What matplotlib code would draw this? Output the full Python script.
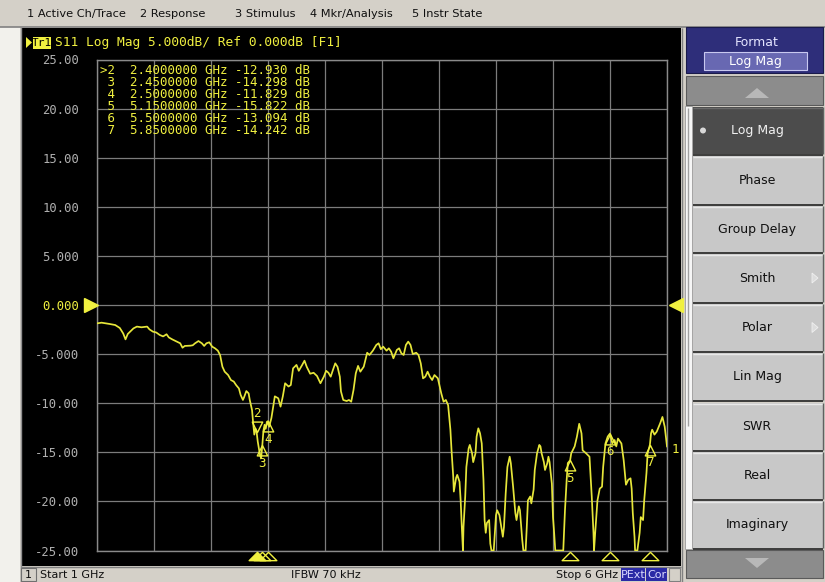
import matplotlib.pyplot as plt
from matplotlib.patches import Rectangle, Polygon, Circle
from matplotlib.path import Path
import matplotlib.transforms as mtransforms
import numpy as np

# S11 trace, 1-6 GHz sweep
freq_ghz = [
    1.00, 1.04, 1.11, 1.16, 1.20, 1.23, 1.25, 1.27, 1.32, 1.35, 1.39, 1.44, 1.46, 1.49,
    1.52, 1.55, 1.58, 1.61, 1.63, 1.66, 1.70, 1.73, 1.75, 1.77, 1.82, 1.84, 1.86, 1.89,
    1.92, 1.94, 1.96, 1.985, 2.01, 2.035, 2.06, 2.08, 2.10, 2.12, 2.15, 2.175, 2.20, 2.22,
    2.245, 2.26, 2.28, 2.29, 2.31, 2.33, 2.34, 2.36, 2.37, 2.38, 2.39, 2.40, 2.41, 2.42,
    2.43, 2.44, 2.45, 2.46, 2.47, 2.48, 2.49, 2.50, 2.51, 2.53, 2.56, 2.59, 2.61, 2.63,
    2.65, 2.68, 2.70, 2.72, 2.75, 2.77, 2.80, 2.82, 2.84, 2.87, 2.90, 2.93, 2.96, 2.99,
    3.01, 3.03, 3.05, 3.07, 3.09, 3.11, 3.13, 3.14, 3.16, 3.19, 3.21, 3.23, 3.25, 3.27,
    3.29, 3.31, 3.34, 3.37, 3.39, 3.42, 3.45, 3.47, 3.49, 3.51, 3.54, 3.56, 3.58, 3.60,
    3.63, 3.65, 3.67, 3.69, 3.71, 3.73, 3.75, 3.77, 3.80, 3.82, 3.84, 3.86, 3.88, 3.90,
    3.92, 3.94, 3.96, 3.99, 4.02, 4.04, 4.06, 4.08, 4.10, 4.11, 4.125, 4.13, 4.15, 4.16,
    4.18, 4.19, 4.20, 4.21, 4.215, 4.23, 4.24, 4.26, 4.27, 4.29, 4.30, 4.32, 4.33, 4.345,
    4.36, 4.375, 4.39, 4.40, 4.41, 4.42, 4.44, 4.45, 4.46, 4.48, 4.49, 4.50, 4.51, 4.53,
    4.55, 4.56, 4.57, 4.585, 4.60, 4.62, 4.63, 4.65, 4.67, 4.68, 4.70, 4.71, 4.73, 4.74,
    4.76, 4.77, 4.78, 4.80, 4.81, 4.83, 4.84, 4.86, 4.88, 4.89, 4.90, 4.92, 4.93, 4.95,
    4.96, 4.97, 4.99, 5.00, 5.01, 5.02, 5.09, 5.105, 5.12, 5.13, 5.15, 5.16, 5.19, 5.21,
    5.23, 5.25, 5.26, 5.29, 5.32, 5.34, 5.355, 5.36, 5.37, 5.39, 5.41, 5.43, 5.44, 5.46,
    5.48, 5.50, 5.52, 5.54, 5.555, 5.57, 5.60, 5.62, 5.64, 5.66, 5.68, 5.69, 5.70, 5.715,
    5.72, 5.74, 5.76, 5.77, 5.79, 5.80, 5.82, 5.83, 5.85, 5.86, 5.87, 5.89, 5.91, 5.94,
    5.96, 5.98, 6.00,
]
s11_db = [
    -1.87, -1.80, -1.93, -2.04, -2.34, -2.90, -3.50, -2.95, -2.38, -2.20, -2.27, -2.20, -2.48, -2.71,
    -2.80, -3.05, -3.20, -2.98, -3.30, -3.50, -3.73, -3.90, -4.35, -4.17, -4.14, -4.10, -3.90, -3.67,
    -3.90, -4.17, -3.90, -3.80, -4.24, -4.41, -4.65, -5.10, -6.28, -6.79, -7.13, -7.64, -7.80, -8.15,
    -8.50, -9.16, -9.67, -9.40, -8.76, -9.00, -9.67, -10.70, -12.05, -13.20, -12.60, -12.93, -13.90, -14.60,
    -15.30, -15.60, -14.30, -12.80, -12.20, -12.60, -11.90, -11.83, -12.40, -11.50, -9.30, -9.50, -10.35, -9.30,
    -7.97, -8.30, -8.15, -6.45, -6.10, -6.70, -6.10, -5.67, -6.30, -7.00, -6.90, -7.23, -7.97, -7.30,
    -6.70, -6.90, -7.30, -6.60, -5.94, -6.30, -7.30, -8.80, -9.67, -9.78, -9.67, -9.85, -8.66, -6.96,
    -6.20, -6.79, -6.28, -4.86, -5.09, -4.65, -4.07, -3.90, -4.50, -4.24, -4.65, -4.41, -4.75, -5.43,
    -4.58, -4.41, -4.92, -5.09, -4.07, -3.73, -4.07, -5.00, -4.86, -5.09, -5.94, -7.47, -7.30, -6.79,
    -7.30, -7.64, -7.13, -7.47, -9.00, -9.85, -9.67, -10.20, -12.70, -14.80, -17.50, -19.00, -17.60, -17.30,
    -18.00, -19.90, -22.60, -25.00, -22.60, -19.50, -16.50, -14.60, -14.25, -15.10, -16.00, -15.10, -13.40, -12.56,
    -13.07, -14.10, -17.80, -21.90, -23.20, -22.20, -21.90, -24.30, -25.00, -25.00, -23.20, -21.40, -20.90, -21.40,
    -22.90, -23.60, -22.60, -19.20, -16.50, -15.45, -16.10, -18.50, -21.20, -21.90, -20.50, -20.90, -23.90, -25.00,
    -25.00, -22.60, -19.90, -19.50, -20.20, -18.80, -16.80, -15.10, -14.25, -14.40, -15.10, -16.00, -16.80, -16.10,
    -15.45, -16.00, -18.20, -21.60, -23.20, -25.00, -25.00, -20.90, -17.80, -16.10, -15.82, -15.10, -14.40, -13.40,
    -12.10, -13.07, -14.80, -15.10, -15.45, -19.50, -23.20, -25.00, -23.20, -19.90, -18.70, -18.50, -16.50, -14.10,
    -13.40, -13.09, -14.10, -13.75, -14.40, -13.60, -14.10, -15.80, -18.30, -17.80, -17.65, -18.70, -21.20, -23.60,
    -25.00, -25.00, -23.20, -21.60, -21.90, -19.90, -17.10, -15.10, -14.24, -13.07, -12.70, -13.20, -12.90, -12.05,
    -11.40, -12.40, -14.40,
]

marker_ids = [2, 3, 4, 5, 6, 7]
marker_freq = [2.40, 2.45, 2.50, 5.15, 5.50, 5.85]
marker_db = [-12.930, -14.298, -11.829, -15.822, -13.094, -14.242]
active_marker = 2

y_ticks = [25, 20, 15, 10, 5, 0, -5, -10, -15, -20, -25]
x_ticks = [1.0, 1.5, 2.0, 2.5, 3.0, 3.5, 4.0, 4.5, 5.0, 5.5, 6.0]

menu_items = ["1 Active Ch/Trace", "2 Response", "3 Stimulus", "4 Mkr/Analysis", "5 Instr State"]
menu_x = [27, 140, 235, 310, 412]

softkeys = ["Log Mag", "Phase", "Group Delay", "Smith", "Polar", "Lin Mag", "SWR", "Real", "Imaginary"]
softkey_top = [107, 156, 206, 254, 304, 353, 403, 452, 501]
softkey_bot = [154, 204, 252, 302, 351, 400, 450, 499, 548]

YEL = '#f0f040'
TRACE = '#e6e63a'
GRID = '#7c7c7c'
MONO = 'DejaVu Sans Mono'
UI = 'DejaVu Sans'

W, H = 825, 582
fig = plt.figure(figsize=(W / 100, H / 100), dpi=100, facecolor='#d4d0c8')

# screen chrome in pixel coordinates
bg = fig.add_axes([0, 0, 1, 1])
bg.set_xlim(0, W)
bg.set_ylim(H, 0)
bg.axis('off')


def box(x0, y0, x1, y1, fc, ec='none', lw=0, z=1):
    bg.add_patch(Rectangle((x0, y0), x1 - x0, y1 - y0, facecolor=fc,
                           edgecolor=ec, linewidth=lw, zorder=z))


def hline(y, x0, x1, c, lw=1, z=2):
    bg.plot([x0, x1], [y, y], color=c, lw=lw, zorder=z, solid_capstyle='butt')


def vline(x, y0, y1, c, lw=1, z=2):
    bg.plot([x, x], [y0, y1], color=c, lw=lw, zorder=z, solid_capstyle='butt')


# menu bar
box(0, 0, W, 26, '#d4d0c8')
hline(26.5, 0, W, '#808080', 1.2)
for name, x in zip(menu_items, menu_x):
    bg.text(x, 14, name, fontsize=8.2, family=UI, color='#101010', va='center', ha='left', zorder=3)

# left strip and graph window
box(0, 27, 20, H, '#f2f1ec')
vline(20.5, 27, H, '#909090')
box(21, 28, 681, 566, 'black')
vline(681.5, 28, H, '#808080')

# title line
bg.add_patch(Polygon([[26, 37], [26, 48], [32, 42.5]], closed=True, facecolor=YEL, edgecolor='none', zorder=3))
box(33, 36.5, 51, 48.5, YEL, z=3)
bg.text(42, 42.5, "Tr1", fontsize=8, family=MONO, color='black', ha='center', va='center', zorder=4)
bg.text(55, 42.5, "S11 Log Mag 5.000dB/ Ref 0.000dB [F1]", fontsize=9.3, family=MONO,
        color=YEL, ha='left', va='center', zorder=3)

# status bar
box(21, 566, 681, H, '#d4d0c8')
hline(566.5, 21, 681, '#808080')
box(21, 568, 36, 581, '#d4d0c8', ec='#707070', lw=0.8, z=2)
bg.text(28.5, 575, "1", fontsize=8, family=UI, color='#101010', ha='center', va='center', zorder=3)
bg.text(40, 575, "Start 1 GHz", fontsize=8, family=UI, color='#101010', ha='left', va='center', zorder=3)
bg.text(291, 575, "IFBW 70 kHz", fontsize=8, family=UI, color='#101010', ha='left', va='center', zorder=3)
bg.text(556, 575, "Stop 6 GHz", fontsize=8, family=UI, color='#101010', ha='left', va='center', zorder=3)
box(621, 567.5, 645, 581, '#2a2aa6', z=2)
bg.text(633, 575, "PExt", fontsize=8, family=UI, color='#d8d8ff', ha='center', va='center', zorder=3)
box(646, 567.5, 667, 581, '#2a2aa6', z=2)
bg.text(656.5, 575, "Cor", fontsize=8, family=UI, color='#d8d8ff', ha='center', va='center', zorder=3)
box(669, 567.5, 680, 581, '#d4d0c8', ec='#808080', lw=0.8, z=2)

# softkey panel
box(682, 27, W, H, '#d4d0c8')
box(686, 27, 823, 73, '#2e2e7a', ec='#1a1a4a', lw=0.8, z=2)
bg.text(757, 42, "Format", fontsize=9, family=UI, color='#e4e4ff', ha='center', va='center', zorder=3)
box(704, 52, 807, 70, '#6868b2', ec='#c8c8f0', lw=0.8, z=3)
bg.text(755.5, 61, "Log Mag", fontsize=9, family=UI, color='white', ha='center', va='center', zorder=4)

box(686, 76, 823, 105, '#8c8c8c', ec='#5a5a5a', lw=0.8, z=2)
bg.add_patch(Polygon([[745, 98], [769, 98], [757, 88]], closed=True, facecolor='#b8b8b8', edgecolor='none', zorder=3))
box(686, 550, 823, 578, '#8c8c8c', ec='#5a5a5a', lw=0.8, z=2)
bg.add_patch(Polygon([[745, 558], [769, 558], [757, 568]], closed=True, facecolor='#b8b8b8', edgecolor='none', zorder=3))

# scrollbar strip beside the softkeys
box(685, 106, 692, 549, '#f6f6f6', ec='#9a9a9a', lw=0.6, z=2)
vline(688, 108, 426, '#a0a0a0', 1.0, z=3)

for i, (name, t, b) in enumerate(zip(softkeys, softkey_top, softkey_bot)):
    selected = i == 0
    box(693, t, 823, b, '#4c4c4c' if selected else '#c8c8c8', z=2)
    hline(t + 0.5, 693, 823, '#e8e8e8' if not selected else '#6a6a6a', 1.0, z=3)
    hline(b + 0.5, 693, 823, '#303030', 1.3, z=3)
    vline(823, t, b, '#606060', 1.0, z=3)
    bg.text(757, (t + b) / 2, name, fontsize=9, family=UI,
            color='#f0f0f0' if selected else '#101010', ha='center', va='center', zorder=4)
    if selected:
        bg.add_patch(Circle((703, (t + b) / 2), 3, facecolor='#d8d8d8', edgecolor='none', zorder=4))
    if name in ("Smith", "Polar"):
        c = (t + b) / 2
        bg.add_patch(Polygon([[812, c - 5], [812, c + 5], [818, c]], closed=True,
                             facecolor='#dcdcdc', edgecolor='#f0f0f0', lw=0.6, zorder=4))

# measurement grid
ax = fig.add_axes([97 / W, (H - 550.5) / H, 570 / W, 491 / H])
ax.set_facecolor('black')
ax.set_xlim(1, 6)
ax.set_ylim(-25, 25)
ax.set_xticks(x_ticks)
ax.set_xticklabels([])
ax.set_yticks(y_ticks)
ax.set_yticklabels([f"{v:.2f}" if abs(v) >= 10 else f"{v:.3f}" for v in y_ticks])
ax.tick_params(axis='both', length=0)
ax.tick_params(axis='y', pad=13, labelsize=8.8, labelcolor='#b0b0b0')
for lbl in ax.get_yticklabels():
    lbl.set_fontfamily(MONO)
    if lbl.get_text() == "0.000":
        lbl.set_color(YEL)
ax.grid(True, color=GRID, lw=0.9)
for sp in ax.spines.values():
    sp.set_color('#8a8a8a')
    sp.set_linewidth(1.0)

ax.plot(freq_ghz, s11_db, color=TRACE, lw=1.25, zorder=4)

# reference level arrows
blend = mtransforms.blended_transform_factory(ax.transAxes, ax.transData)
ax.plot([-0.011], [0], marker='>', ms=10, color=YEL, transform=blend, clip_on=False, zorder=5)
ax.plot([1.016], [0], marker='<', ms=10, color=YEL, transform=blend, clip_on=False, zorder=5)

# marker table
for i, (mid, f, db) in enumerate(zip(marker_ids, marker_freq, marker_db)):
    prefix = '>' if mid == active_marker else ' '
    row = f"{prefix}{mid}  {f:.7f} GHz {db:.3f} dB"
    ax.text(100, 70 + 12 * i, row, transform=bg.transData, fontsize=9, family=MONO,
            color=YEL, ha='left', va='center', zorder=6)

# markers on the trace
tri_up = Path([(0, 0), (-0.5, -1), (0.5, -1), (0, 0)], closed=True)
tri_dn = Path([(0, 0), (-0.5, 1), (0.5, 1), (0, 0)], closed=True)
flat_tri = Path([(-1, -0.5), (1, -0.5), (0, 0.5), (-1, -0.5)], closed=True)
xblend = mtransforms.blended_transform_factory(ax.transData, ax.transAxes)
for mid, f, db in zip(marker_ids, marker_freq, marker_db):
    active = mid == active_marker
    ax.plot([f], [db], marker=tri_dn if active else tri_up, ms=15, mfc='none', mec=YEL,
            mew=1.0, zorder=6)
    ax.annotate(str(mid), (f, db), xytext=(0, 13 if active else -13), textcoords='offset points',
                ha='center', va='center', fontsize=9, family=MONO, color=YEL, zorder=6)
    ax.plot([f], [-0.011], marker=flat_tri, ms=12, mfc=YEL if active else 'none', mec=YEL,
            mew=1.0, transform=xblend, clip_on=False, zorder=6)

ax.annotate("1", (freq_ghz[-1], s11_db[-1]), xytext=(3, -2), textcoords='offset points',
            ha='left', va='center', fontsize=9, family=MONO, color=YEL, annotation_clip=False)

fig.savefig('out.png', dpi=100, facecolor=fig.get_facecolor())
